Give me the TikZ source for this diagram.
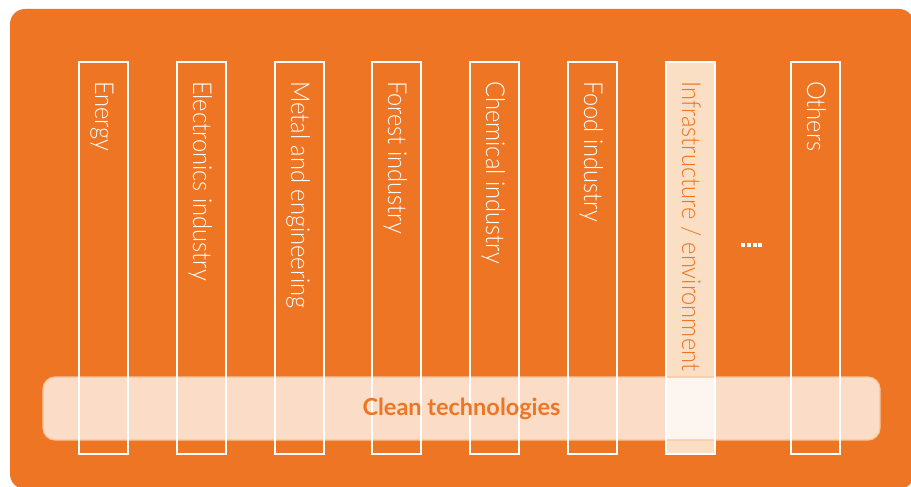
\documentclass[tikz,border=0pt]{standalone}
\usepackage{fontspec}
\setmainfont{Lato}
\newfontfamily\lightf[FakeStretch=0.91]{Lato Light}
\definecolor{bgorange}{RGB}{238,117,35}
\definecolor{peach}{RGB}{251,223,197}
\definecolor{bandedge}{RGB}{248,196,152}
\tikzset{
  colbox/.style={draw=white, line width=2pt},
  coltext/.style={rotate=-90, anchor=base west, inner sep=0pt, text=white, font=\lightf\fontsize{26}{26}\selectfont},
  band/.style={fill=white, fill opacity=0.75, draw=bandedge, line width=1.2pt, rounded corners=12pt},
}
\begin{document}
\begin{tikzpicture}[x=1pt,y=-1pt]
\useasboundingbox (0,0) rectangle (911,487);
\clip (0,0) rectangle (911,487);
\fill[bgorange, rounded corners=15pt] (10,9) rectangle (914,489);
% infrastructure fill
\fill[peach] (666,62) rectangle (715,454);
% band
\node[band, minimum width=837pt, minimum height=63pt, inner sep=0pt] (band) at (461.5,408.5) {};
% boxes
\foreach \x/\n in {79/b1,177/b2,275/b3,372/b4,470/b5,568/b6,666/b7,791/b8}{
  \draw[colbox] (\x,62) rectangle ++(49,392);
  \coordinate (\n) at (\x+16,81);
}
\node[coltext] (t1) at (b1) {Energy};
\node[coltext] (t2) at (b2) {Electronics industry};
\node[coltext] (t3) at (b3) {Metal and engineering};
\node[coltext] (t4) at (b4) {Forest industry};
\node[coltext] (t5) at (b5) {Chemical industry};
\node[coltext] (t6) at (b6) {Food industry};
\node[coltext, text=bgorange] (t7) at (b7) {Infrastructure / environment};
\node[coltext] (t8) at (b8) {Others};
% dots
\foreach \x in {741,746.8,752.6,758.4}{
  \fill[white] (\x,242.7) rectangle ++(4,4);
}
\node[text=bgorange, font=\bfseries\fontsize{23.5}{23.5}\selectfont, inner sep=0pt] (ct) at (band.center) {Clean technologies};
\end{tikzpicture}
\end{document}
